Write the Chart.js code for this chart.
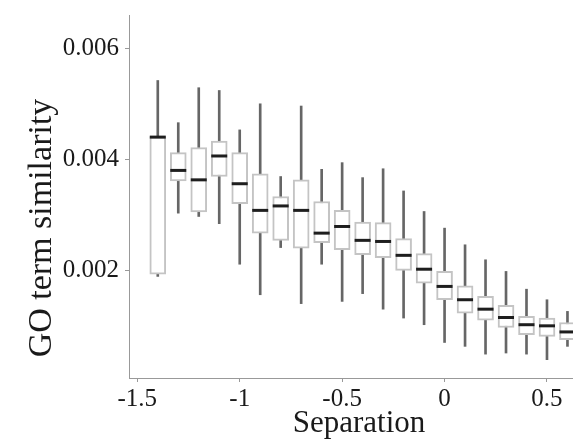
<!DOCTYPE html>
<html>
<head>
<meta charset="utf-8">
<script src="https://cdn.jsdelivr.net/npm/chart.js@4/dist/chart.umd.min.js"></script>
<style>
  html, body { margin: 0; padding: 0; background: #fff; }
  #wrap { width: 573px; height: 439px; }
</style>
</head>
<body>
<div id="wrap"><canvas id="c" width="573" height="439"></canvas></div>
<script>
// Box plot data (one box per separation bin)
const separation  = [-1.4, -1.3, -1.2, -1.1, -1.0, -0.9, -0.8, -0.7, -0.6, -0.5, -0.4, -0.3, -0.2, -0.1, 0.0, 0.1, 0.2, 0.3, 0.4, 0.5, 0.6];
const whiskerHigh = [0.00542, 0.00466, 0.00529, 0.00524, 0.00453, 0.00500, 0.00369, 0.00496, 0.00382, 0.00394, 0.00367, 0.00383, 0.00343, 0.00306, 0.00276, 0.00246, 0.00219, 0.00198, 0.00166, 0.00147, 0.00126];
const q3          = [0.00441, 0.00412, 0.00421, 0.00433, 0.00412, 0.00374, 0.00333, 0.00363, 0.00324, 0.00308, 0.00287, 0.00286, 0.00257, 0.00230, 0.00198, 0.00172, 0.00153, 0.00137, 0.00117, 0.00114, 0.00106];
const median      = [0.00440, 0.00380, 0.00363, 0.00406, 0.00356, 0.00308, 0.00316, 0.00308, 0.00267, 0.00279, 0.00254, 0.00252, 0.00227, 0.00202, 0.00171, 0.00147, 0.00130, 0.00115, 0.00102, 0.00100, 0.00089];
const q1          = [0.00193, 0.00361, 0.00305, 0.00369, 0.00320, 0.00267, 0.00254, 0.00240, 0.00250, 0.00237, 0.00228, 0.00223, 0.00200, 0.00177, 0.00147, 0.00123, 0.00110, 0.00097, 0.00084, 0.00081, 0.00075];
const whiskerLow  = [0.00189, 0.00303, 0.00297, 0.00284, 0.00211, 0.00156, 0.00241, 0.00140, 0.00211, 0.00144, 0.00158, 0.00130, 0.00114, 0.00102, 0.00070, 0.00063, 0.00049, 0.00051, 0.00049, 0.00039, 0.00063];

const xTicks = [-1.5, -1, -0.5, 0, 0.5];
const yTicks = [0.002, 0.004, 0.006];
const xTitle = "Separation";
const yTitle = "GO term similarity";

const serif = "'Liberation Serif', 'Times New Roman', serif";
const ink = "#1a1a1a";

// axis titles drawn at fixed spots so they line up with the reference
const axisTitles = {
  id: "axisTitles",
  afterDraw(chart) {
    const ctx = chart.ctx;
    ctx.save();
    ctx.fillStyle = ink;
    ctx.font = "31px " + serif;
    ctx.textAlign = "center";
    ctx.textBaseline = "middle";
    ctx.fillText(xTitle, 359, 424);
    ctx.translate(42, 228);
    ctx.rotate(-Math.PI / 2);
    ctx.font = "34px " + serif;
    ctx.fillText(yTitle, 0, 0);
    ctx.restore();
  }
};

new Chart(document.getElementById("c"), {
  type: "bar",
  data: {
    datasets: [
      {
        label: "median",
        type: "line",
        data: separation.map((x, i) => ({ x, y: median[i] })),
        showLine: false,
        pointStyle: "line",
        pointRadius: 8,
        pointBorderWidth: 3,
        pointBorderColor: "#1e1e1e",
        borderColor: "#1e1e1e",
        clip: false,
        order: 0
      },
      {
        label: "box",
        data: separation.map((x, i) => ({ x, y: [q1[i], q3[i]] })),
        backgroundColor: "#fff",
        borderColor: "#c4c4c4",
        borderWidth: 2,
        borderSkipped: false,
        barThickness: 16,
        grouped: false,
        order: 1
      },
      {
        label: "whisker",
        data: separation.map((x, i) => ({ x, y: [whiskerLow[i], whiskerHigh[i]] })),
        backgroundColor: "#666",
        borderWidth: 0,
        barThickness: 2,
        grouped: false,
        order: 2
      }
    ]
  },
  options: {
    responsive: false,
    animation: false,
    layout: { autoPadding: false, padding: { top: 15, right: 0, left: 0, bottom: 0 } },
    plugins: { legend: { display: false }, tooltip: { enabled: false } },
    scales: {
      x: {
        type: "linear",
        offset: false,
        min: -1.5405,
        max: 0.627,
        afterBuildTicks: (s) => { s.ticks = xTicks.map(v => ({ value: v })); },
        afterFit: (s) => { s.height = 61; s.paddingLeft = 0; s.paddingRight = 0; },
        ticks: {
          color: ink,
          font: { family: serif, size: 25 },
          padding: 2,
          maxRotation: 0,
          callback: (v) => String(v)
        },
        grid: { offset: false, drawOnChartArea: false, tickLength: 4, tickColor: "#999" },
        border: { color: "#999", width: 1 }
      },
      y: {
        min: 0.00006,
        max: 0.0066,
        afterBuildTicks: (s) => { s.ticks = yTicks.map(v => ({ value: v })); },
        afterFit: (s) => { s.width = 129; s.paddingTop = 0; s.paddingBottom = 0; },
        ticks: {
          color: ink,
          font: { family: serif, size: 25 },
          padding: 6,
          callback: (v) => v.toFixed(3)
        },
        grid: { drawOnChartArea: false, tickLength: 4, tickColor: "#999" },
        border: { color: "#999", width: 1 }
      }
    }
  },
  plugins: [axisTitles]
});
</script>
</body>
</html>
